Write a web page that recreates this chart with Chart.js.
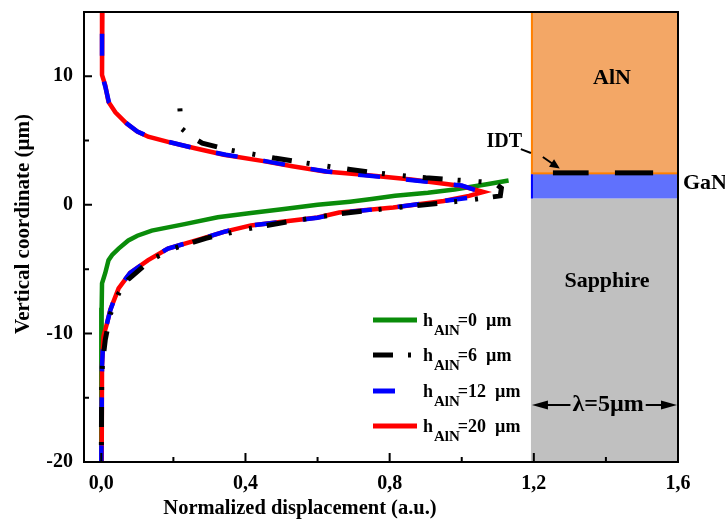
<!DOCTYPE html>
<html>
<head>
<meta charset="utf-8">
<script src="https://cdn.jsdelivr.net/npm/chart.js@4.4.1/dist/chart.umd.min.js"></script>
<style>
  html, body { margin: 0; padding: 0; background: #fff; }
</style>
</head>
<body>
<canvas id="dispChart" width="725" height="522"></canvas>
<script>
// AlN kalınlıkları (legend)
const hValues = [0, 6, 12, 20];

// h=0 µm : dikey koordinat ve normalize yer değiştirme
const coordH0 = [1.9, 1.6, 1.2, 0.95, 0.7, 0.45, 0.25, 0.0, -0.33, -0.64, -0.97, -1.5, -2.0, -2.4, -2.77, -3.4, -3.9, -4.3, -5.3, -6.1, -8, -12, -20];
const dispH0 = [1.13, 1.07, 0.98, 0.906, 0.815, 0.75, 0.69, 0.6, 0.507, 0.415, 0.323, 0.231, 0.14, 0.1, 0.075, 0.048, 0.03, 0.02, 0.011, 0.002, 0.001, 0, 0];

// h=6 µm
const coordH6 = [7.5, 6.7, 5.95, 5.3, 4.8, 4.3, 3.64, 3.2, 2.75, 2.4, 2.1, 1.9, 1.72, 1.3, 0.7, 0.43, 0.18, -0.2, -0.7, -1.3, -1.87, -2.6, -3.4, -4.1, -4.7, -5.8, -6.9, -8.5, -10.5, -12.4, -14, -20];
const dispH6 = [0.218, 0.22, 0.222, 0.25, 0.28, 0.35, 0.48, 0.58, 0.69, 0.79, 0.9, 1.0, 1.09, 1.11, 1.107, 1.035, 0.96, 0.82, 0.66, 0.52, 0.405, 0.29, 0.2, 0.15, 0.12, 0.075, 0.048, 0.025, 0.011, 0.003, 0.001, 0];

// h=12 µm
const coordH12 = [14, 12, 10.1, 9.2, 8.0, 7.2, 6.3, 5.7, 5.3, 4.9, 4.4, 3.9, 3.4, 3.0, 2.6, 2.3, 1.9, 1.5, 0.95, 0.56, 0.3, -0.2, -0.6, -1.0, -1.6, -2.1, -2.65, -3.4, -4.3, -5.3, -6.5, -8.2, -9.2, -10.2, -12.5, -20];
const dispH12 = [0.002, 0.002, 0.002, 0.011, 0.021, 0.04, 0.072, 0.1, 0.132, 0.186, 0.26, 0.345, 0.455, 0.535, 0.625, 0.73, 0.87, 1.0, 1.06, 1.02, 0.95, 0.81, 0.67, 0.6, 0.415, 0.34, 0.275, 0.185, 0.13, 0.08, 0.047, 0.025, 0.016, 0.006, 0.002, 0];

// h=20 µm
const coordH20 = [15, 12, 10.1, 9.3, 8.0, 7.2, 6.3, 5.7, 5.3, 4.9, 4.4, 3.9, 3.4, 3.0, 2.6, 2.36, 1.97, 1.46, 1.0, 0.7, 0.3, -0.2, -0.6, -0.98, -1.6, -2.1, -2.64, -3.4, -4.3, -5.3, -6.5, -8.15, -9.2, -10.2, -12.5, -20];
const dispH20 = [0.003, 0.002, 0.002, 0.011, 0.02, 0.039, 0.071, 0.1, 0.13, 0.185, 0.26, 0.34, 0.45, 0.53, 0.62, 0.72, 0.86, 1.0, 1.06, 1.02, 0.95, 0.81, 0.66, 0.6, 0.415, 0.34, 0.277, 0.185, 0.13, 0.08, 0.048, 0.025, 0.016, 0.006, 0.002, 0.001];

// eksen etiketleri
const xTickValues = [0, 0.4, 0.8, 1.2, 1.6];
const xTickLabels = ['0,0', '0,4', '0,8', '1,2', '1,6'];
const xMinorTicks = [0.2, 0.6, 1.0, 1.4];
const yTickValues = [-20, -10, 0, 10];
const yTickLabels = ['-20', '-10', '0', '10'];
const yMinorTicks = [-15, -5, 5];

// sağdaki katman şeması (µm)
const layerNames = ['Sapphire', 'GaN', 'AlN'];
const layerBottom = [-20, 0.5, 2.45];
const layerTop = [0.5, 2.45, 15];
const layerStartX = 1.192;
const idtStart = [1.253, 1.425];
const idtEnd = [1.352, 1.531];

const FONT = '"Liberation Serif", "Times New Roman", serif';

function toPoints(xs, ys) {
    return xs.map((v, i) => ({ x: v, y: ys[i] }));
}

function arrowHead(ctx, x0, y0, x1, y1, len, half) {
    const ang = Math.atan2(y1 - y0, x1 - x0);
    ctx.beginPath();
    ctx.moveTo(x1, y1);
    ctx.lineTo(x1 - len * Math.cos(ang) + half * Math.sin(ang), y1 - len * Math.sin(ang) - half * Math.cos(ang));
    ctx.lineTo(x1 - len * Math.cos(ang) - half * Math.sin(ang), y1 - len * Math.sin(ang) + half * Math.cos(ang));
    ctx.closePath();
    ctx.fill();
}

// katmanlar, çerçeve, içe dönük tikler, legend ve notlar
const figurePlugin = {
    id: 'figure',
    beforeDatasetsDraw(chart) {
        const { ctx, chartArea: a, scales: { x, y } } = chart;
        const left = x.getPixelForValue(layerStartX);
        const fills = ['#c0c0c0', '#6071fd', '#f3a766'];
        ctx.save();
        layerNames.forEach((n, i) => {
            const top = Math.max(y.getPixelForValue(layerTop[i]), a.top);
            const bot = Math.min(y.getPixelForValue(layerBottom[i]), a.bottom);
            ctx.fillStyle = fills[i];
            ctx.fillRect(left, top, a.right - left, bot - top);
        });
        // kenar çizgileri
        const gTop = y.getPixelForValue(layerTop[1]);
        const gBot = y.getPixelForValue(layerBottom[1]);
        ctx.fillStyle = '#ff8000';
        ctx.fillRect(left, a.top, 2, gTop - a.top);
        ctx.fillRect(left, gTop - 1, a.right - left, 2);
        ctx.fillStyle = '#0000ff';
        ctx.fillRect(left, gTop + 1, 2, gBot - gTop - 1);
        // IDT elektrotları
        ctx.fillStyle = '#000';
        idtStart.forEach((s, i) => {
            const x0 = x.getPixelForValue(s), x1 = x.getPixelForValue(idtEnd[i]);
            ctx.fillRect(x0, gTop - 3, x1 - x0, 5);
        });
        ctx.restore();
    },
    afterDatasetsDraw(chart) {
        const { ctx, chartArea: a, scales: { x, y } } = chart;
        ctx.save();
        ctx.strokeStyle = '#000';
        ctx.lineWidth = 2;
        ctx.strokeRect(a.left, a.top, a.right - a.left, a.bottom - a.top);

        ctx.beginPath();
        xTickValues.forEach(v => { const p = x.getPixelForValue(v); ctx.moveTo(p, a.bottom); ctx.lineTo(p, a.bottom - 9); });
        xMinorTicks.forEach(v => { const p = x.getPixelForValue(v); ctx.moveTo(p, a.bottom); ctx.lineTo(p, a.bottom - 5); });
        yTickValues.forEach(v => { const p = y.getPixelForValue(v); ctx.moveTo(a.left, p); ctx.lineTo(a.left + 8, p); });
        yMinorTicks.forEach(v => { const p = y.getPixelForValue(v); ctx.moveTo(a.left, p); ctx.lineTo(a.left + 5, p); });
        ctx.stroke();

        // eksen başlıkları
        ctx.fillStyle = '#000';
        ctx.font = 'bold 20.5px ' + FONT;
        ctx.textAlign = 'center';
        ctx.textBaseline = 'middle';
        ctx.fillText('Normalized displacement (a.u.)', 300, 509);
        ctx.save();
        ctx.translate(24, 224);
        ctx.rotate(-Math.PI / 2);
        ctx.font = 'bold 21px ' + FONT;
        ctx.fillText('Vertical coordinate (µm)', 0, 0);
        ctx.restore();

        // katman isimleri
        ctx.font = 'bold 22px ' + FONT;
        ctx.fillText('AlN', x.getPixelForValue(1.417), y.getPixelForValue(9.86));
        ctx.fillText('Sapphire', x.getPixelForValue(1.403), y.getPixelForValue(-5.93));
        ctx.textAlign = 'left';
        ctx.fillText('GaN', a.right + 5, y.getPixelForValue(1.7));
        ctx.textAlign = 'center';
        ctx.font = 'bold 20px ' + FONT;
        ctx.fillText('IDT', x.getPixelForValue(1.118), y.getPixelForValue(4.88));

        // IDT oku
        ctx.lineWidth = 2;
        ctx.beginPath();
        ctx.moveTo(x.getPixelForValue(1.164), y.getPixelForValue(4.34));
        ctx.lineTo(x.getPixelForValue(1.192), y.getPixelForValue(4.03));
        ctx.moveTo(x.getPixelForValue(1.225), y.getPixelForValue(3.72));
        ctx.lineTo(x.getPixelForValue(1.262), y.getPixelForValue(3.0));
        ctx.stroke();
        arrowHead(ctx, x.getPixelForValue(1.225), y.getPixelForValue(3.72), x.getPixelForValue(1.272), y.getPixelForValue(2.82), 10, 4.5);

        // λ = 5 µm
        const ly = y.getPixelForValue(-15.57);
        const lx0 = x.getPixelForValue(layerStartX) + 1, lx1 = a.right - 1;
        const lc = x.getPixelForValue(1.406);
        ctx.font = 'bold 24px ' + FONT;
        const tw = ctx.measureText('λ=5µm').width;
        ctx.fillText('λ=5µm', lc, ly);
        ctx.beginPath();
        ctx.moveTo(lx0 + 8, ly); ctx.lineTo(lc - tw / 2 - 2, ly);
        ctx.moveTo(lc + tw / 2 + 2, ly); ctx.lineTo(lx1 - 8, ly);
        ctx.stroke();
        arrowHead(ctx, lx0 + 20, ly, lx0, ly, 16, 4.5);
        arrowHead(ctx, lx1 - 20, ly, lx1, ly, 16, 4.5);

        // legend
        const lgX = 373, rows = [320, 355, 391, 426];
        chart.data.datasets.forEach((ds, i) => {
            const r = rows[i];
            ctx.strokeStyle = ds.borderColor;
            ctx.lineWidth = 5;
            ctx.lineCap = 'butt';
            ctx.setLineDash(ds.borderDash || []);
            ctx.beginPath();
            ctx.moveTo(lgX, r); ctx.lineTo(lgX + 44, r);
            ctx.stroke();
            ctx.setLineDash([]);
            ctx.textAlign = 'left';
            ctx.textBaseline = 'alphabetic';
            ctx.fillStyle = '#000';
            ctx.font = 'bold 18px ' + FONT;
            let tx = lgX + 50;
            ctx.fillText('h', tx, r + 6);
            tx += ctx.measureText('h').width + 1;
            ctx.font = 'bold 15px ' + FONT;
            ctx.fillText('AlN', tx, r + 15);
            tx += ctx.measureText('AlN').width - 2;
            ctx.font = 'bold 18px ' + FONT;
            ctx.fillText('=' + hValues[i] + '  µm', tx, r + 6);
        });
        ctx.restore();
    }
};

const tickFont = { family: FONT, size: 20, weight: 'bold' };

new Chart(document.getElementById('dispChart').getContext('2d'), {
    type: 'scatter',
    data: {
        datasets: [
            { label: 'h0', data: toPoints(dispH0, coordH0), showLine: true, borderColor: '#0a8c0a', borderWidth: 4.5, order: 4 },
            { label: 'h6', data: toPoints(dispH6, coordH6), showLine: true, borderColor: '#000000', borderWidth: 5, borderDash: [20, 15, 3, 18, 3, 17], borderDashOffset: 35, order: 1 },
            { label: 'h12', data: toPoints(dispH12, coordH12), showLine: true, borderColor: '#0000ff', borderWidth: 4.5, borderDash: [22, 26], borderDashOffset: 39, order: 2 },
            { label: 'h20', data: toPoints(dispH20, coordH20), showLine: true, borderColor: '#ff0000', borderWidth: 4.5, order: 3 }
        ]
    },
    options: {
        responsive: false,
        animation: false,
        elements: { point: { radius: 0 }, line: { tension: 0, borderCapStyle: 'butt' } },
        layout: { padding: { left: 0, right: 47, top: 12, bottom: 0 } },
        plugins: { legend: { display: false }, tooltip: { enabled: false } },
        scales: {
            x: {
                type: 'linear', min: -0.048, max: 1.6,
                grid: { display: false, drawTicks: false },
                border: { display: false },
                afterBuildTicks: s => { s.ticks = xTickValues.map(v => ({ value: v })); },
                afterFit: s => { s.height = 60; s.paddingLeft = 0; s.paddingRight = 0; },
                ticks: { autoSkip: false, maxRotation: 0, padding: 10, color: '#000', font: tickFont, callback: (v, i) => xTickLabels[i] }
            },
            y: {
                type: 'linear', min: -20, max: 15,
                grid: { display: false, drawTicks: false },
                border: { display: false },
                afterBuildTicks: s => { s.ticks = yTickValues.map(v => ({ value: v })); },
                afterFit: s => { s.width = 84; s.paddingTop = 0; s.paddingBottom = 0; },
                ticks: { autoSkip: false, padding: 11, color: '#000', font: tickFont, callback: (v, i) => yTickLabels[i] }
            }
        }
    },
    plugins: [figurePlugin]
});
</script>
</body>
</html>
